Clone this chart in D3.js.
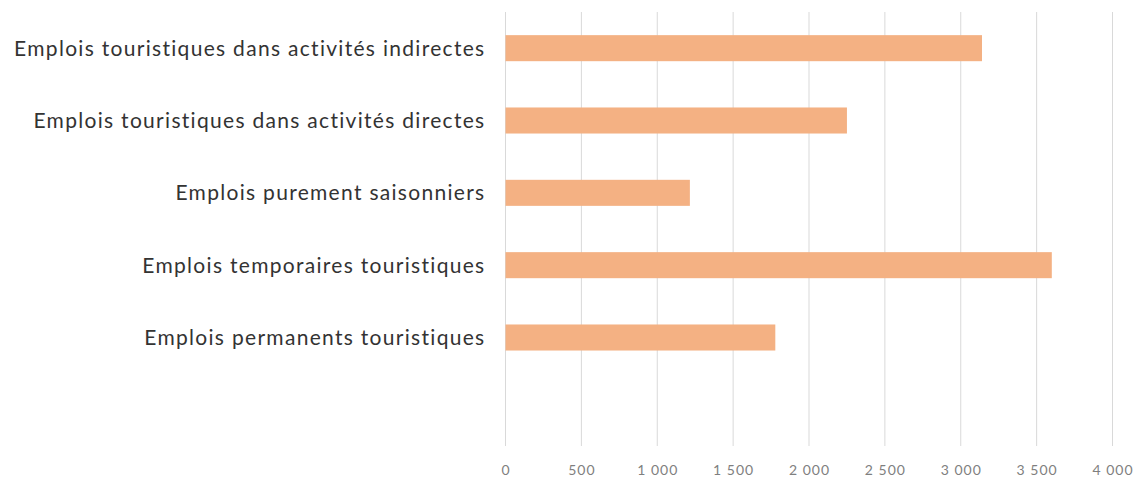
<!DOCTYPE html>
<html>
<head>
<meta charset="utf-8">
<script src="https://cdn.jsdelivr.net/npm/d3@7"></script>
<style>
  body { margin: 0; background: #fff; }
  svg { display: block; }
</style>
</head>
<body>
<div id="chart"></div>
<script>
// data
var categories = [
  "Emplois touristiques dans activités indirectes",
  "Emplois touristiques dans activités directes",
  "Emplois purement saisonniers",
  "Emplois temporaires touristiques",
  "Emplois permanents touristiques",
  ""
];
var values = [3140, 2250, 1215, 3600, 1778, null];
var tickValues = [0, 500, 1000, 1500, 2000, 2500, 3000, 3500, 4000];

var width = 1142, height = 484;
var margin = {top: 12, right: 29.5, bottom: 38, left: 505.5};

var svg = d3.select("#chart")
  .append("svg")
    .attr("width", width)
    .attr("height", height);

var x = d3.scaleLinear()
  .domain([0, 4000])
  .range([margin.left, width - margin.right]);

var y = d3.scaleBand()
  .domain(categories)
  .range([margin.top, height - margin.bottom])
  .paddingInner(0.64)
  .paddingOuter(0.32);

// gridlines
svg.append("g")
  .selectAll("line")
  .data(tickValues)
  .enter()
  .append("line")
    .attr("x1", function(d) { return x(d); })
    .attr("x2", function(d) { return x(d); })
    .attr("y1", margin.top)
    .attr("y2", height - margin.bottom)
    .style("stroke", "#d9d9d9")
    .style("stroke-width", 1);

// bars
svg.append("g")
  .selectAll("rect")
  .data(categories.filter(function(c, i) { return values[i] != null; }))
  .enter()
  .append("rect")
    .attr("x", x(0))
    .attr("y", function(d) { return y(d); })
    .attr("width", function(d) { return x(values[categories.indexOf(d)]) - x(0); })
    .attr("height", y.bandwidth())
    .style("fill", "#f4b183");

// x axis labels
var xAxis = svg.append("g")
  .attr("transform", "translate(0," + (height - margin.bottom) + ")")
  .call(d3.axisBottom(x)
    .tickValues(tickValues)
    .tickSize(0)
    .tickPadding(19)
    .tickFormat(function(d) { return d3.format(",")(d).replace(",", " "); }));
xAxis.select(".domain").remove();
xAxis.selectAll("text")
  .attr("font-family", "Lato, sans-serif")
  .attr("font-size", 14)
  .attr("letter-spacing", "1px")
  .attr("fill", "#7f7f7f");

// category labels
svg.append("g")
  .selectAll("text")
  .data(categories)
  .enter()
  .append("text")
    .attr("x", margin.left - 20)
    .attr("y", function(d) { return y(d) + y.bandwidth() / 2; })
    .attr("dy", "0.35em")
    .attr("text-anchor", "end")
    .attr("font-family", "Lato, sans-serif")
    .attr("font-size", 21)
    .attr("letter-spacing", "1.3px")
    .attr("fill", "#333")
    .text(function(d) { return d; });
</script>
</body>
</html>
